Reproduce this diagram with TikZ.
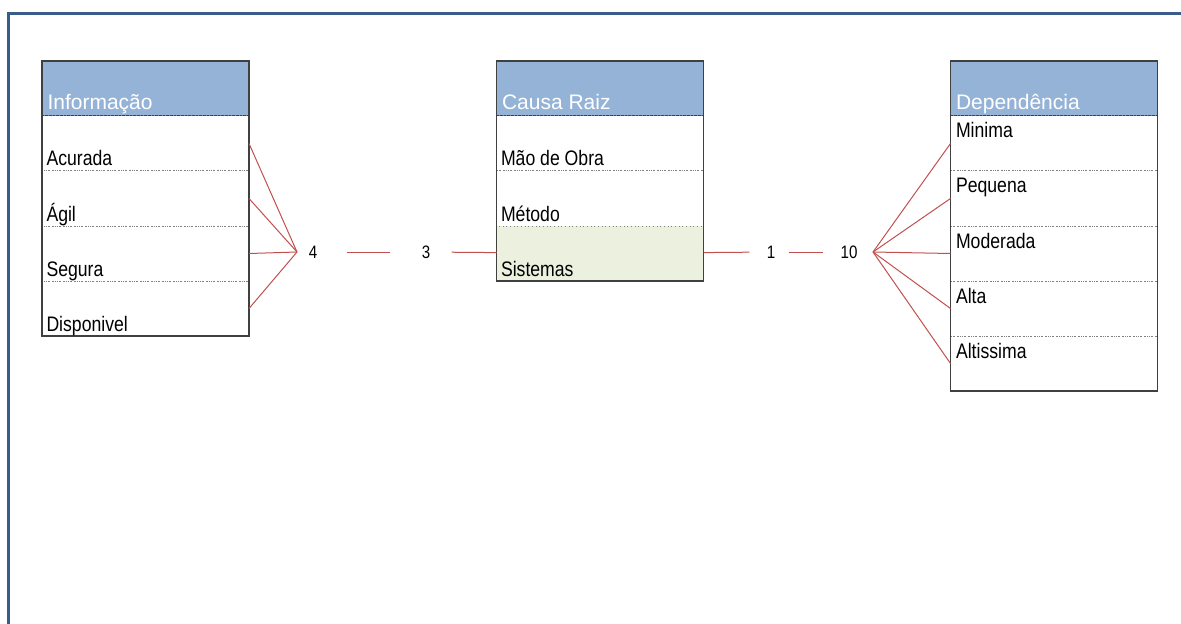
\documentclass[tikz,border=0pt]{standalone}
\usepackage{fontspec}
\setmainfont{Liberation Sans}
\newfontfamily\narrowfont[FakeStretch=0.84]{Liberation Sans}
\usetikzlibrary{positioning,calc}

\definecolor{headblue}{RGB}{149,179,215}
\definecolor{frameblue}{RGB}{56,93,138}
\definecolor{sysgreen}{RGB}{235,241,222}
\definecolor{relred}{RGB}{192,80,77}
\definecolor{boxgray}{RGB}{64,64,64}

\tikzset{every picture/.style={line width=0.75pt}}
\tikzset{
  head/.style={draw=boxgray, fill=headblue, minimum width=155.25pt, minimum height=41.25pt, inner sep=0pt, outer sep=0pt},
  cell/.style={draw=gray, dotted, minimum width=155.25pt, minimum height=41.25pt, inner sep=0pt, outer sep=0pt},
  headtxt/.style={anchor=base west, inner sep=0pt, text=white, font=\fontsize{15.75}{18}\selectfont},
  celltxt/.style={anchor=base west, inner sep=0pt, font=\narrowfont\fontsize{15.75}{18}\selectfont},
  num/.style={inner sep=0pt, font=\narrowfont\fontsize{13.5}{16}\selectfont},
  rel/.style={draw=relred, line width=0.75pt},
  tablebox/.style={draw=boxgray, line width=1.1pt}
}

\begin{document}
\begin{tikzpicture}[x=0.75pt,y=0.75pt,yscale=-1,xscale=1]
\useasboundingbox (0,0) rectangle (1181,624);

%Frame
\draw [frameblue, line width=2.25pt] (8,624) -- (8,14) -- (1181,14) ;

%Shape: Table Informacao
\node [head] (inf) at (145.5,88.5) {};
\node [cell, below=0pt of inf] (acu) {};
\node [cell, below=0pt of acu] (agil) {};
\node [cell, below=0pt of agil] (seg) {};
\node [cell, below=0pt of seg] (disp) {};
\draw [tablebox] (inf.north west) rectangle (disp.south east) ;

%Shape: Table Causa Raiz
\node [head] (causa) at (600,88.5) {};
\node [cell, below=0pt of causa] (mao) {};
\node [cell, below=0pt of mao] (met) {};
\node [cell, fill=sysgreen, below=0pt of met] (sis) {};
\draw [tablebox] (causa.north west) rectangle (sis.south east) ;

%Shape: Table Dependencia
\node [head] (dep) at (1054,88.5) {};
\node [cell, below=0pt of dep] (mini) {};
\node [cell, below=0pt of mini] (peq) {};
\node [cell, below=0pt of peq] (mod) {};
\node [cell, below=0pt of mod] (alta) {};
\node [cell, below=0pt of alta] (altis) {};
\draw [tablebox] (dep.north west) rectangle (altis.south east) ;

% Text Node
\node [headtxt] at ($(inf.south west)+(5,-6)$) {Informação};
\node [celltxt] at ($(acu.south west)+(4,-5)$) {Acurada};
\node [celltxt] at ($(agil.south west)+(4,-5)$) {Ágil};
\node [celltxt] at ($(seg.south west)+(4,-5)$) {Segura};
\node [celltxt] at ($(disp.south west)+(4,-5)$) {Disponivel};
% Text Node
\node [headtxt] at ($(causa.south west)+(5,-6)$) {Causa Raiz};
\node [celltxt] at ($(mao.south west)+(4,-5)$) {Mão de Obra};
\node [celltxt] at ($(met.south west)+(4,-5)$) {Método};
\node [celltxt] at ($(sis.south west)+(4,-5)$) {Sistemas};
% Text Node
\node [headtxt] at ($(dep.south west)+(5,-6)$) {Dependência};
\node [celltxt] at ($(mini.north west)+(5,22)$) {Minima};
\node [celltxt] at ($(peq.north west)+(5,22)$) {Pequena};
\node [celltxt] at ($(mod.north west)+(5,22)$) {Moderada};
\node [celltxt] at ($(alta.north west)+(5,22)$) {Alta};
\node [celltxt] at ($(altis.north west)+(5,22)$) {Altissima};

% Text Node
\node [num] (n4) at (313,252) {4};
\node [num] (n3) at (426,252) {3};
\node [num] (n1) at (771,252) {1};
\node [num] (n10) at (849,252) {10};
\coordinate (fanL) at (297,252);
\coordinate (fanR) at (873,252);

%Straight Lines
\draw [rel] (acu.east) -- (fanL) ;
\draw [rel] (agil.east) -- (fanL) ;
\draw [rel] (seg.east) -- (fanL) ;
\draw [rel] (disp.east) -- (fanL) ;
\draw [rel, shorten <=21.75pt, shorten >=23.85pt] (n4) -- (n3) ;
\draw [rel, shorten <=15.6pt] (n3) -- (sis) ;
\draw [rel, shorten >=12.75pt] (sis) -- (n1) ;
\draw [rel, shorten <=9.75pt, shorten >=12.75pt] (n1) -- (n10) ;
\draw [rel] (fanR) -- (mini.west) ;
\draw [rel] (fanR) -- (peq.west) ;
\draw [rel] (fanR) -- (mod.west) ;
\draw [rel] (fanR) -- (alta.west) ;
\draw [rel] (fanR) -- (altis.west) ;

\end{tikzpicture}
\end{document}
